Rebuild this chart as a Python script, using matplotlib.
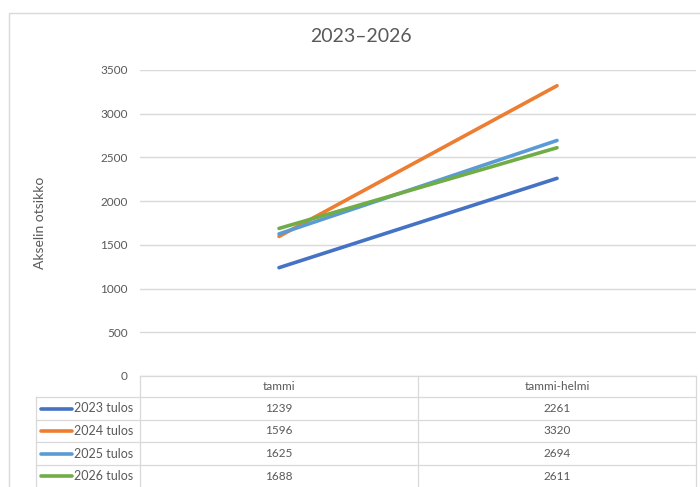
import matplotlib
matplotlib.use("Agg")
import matplotlib.pyplot as plt
from matplotlib.lines import Line2D
from matplotlib.patches import Rectangle

plt.rcParams['font.family'] = ['Lato', 'DejaVu Sans']

categories = ["tammi", "tammi-helmi"]
series_names = ["2023 tulos", "2024 tulos", "2025 tulos", "2026 tulos"]
v2023 = [1239, 2261]
v2024 = [1596, 3320]
v2025 = [1625, 2694]
v2026 = [1688, 2611]
series_values = [v2023, v2024, v2025, v2026]
colors = ["#4472C4", "#ED7D31", "#5B9BD5", "#70AD47"]
yticks = [0, 500, 1000, 1500, 2000, 2500, 3000, 3500]
title = "2023\u20132026"
ylabel = "Akselin otsikko"

W, H = 700, 487
TXT = "#595959"
GRID = "#d9d9d9"

fig = plt.figure(figsize=(W / 100, H / 100), dpi=100)

def fx(px):
    return px / W

def fy(py):
    return 1 - py / H

# outer chart border
fig.patches.append(Rectangle((fx(9), fy(600)), fx(760) - fx(9), fy(13) - fy(600),
                             transform=fig.transFigure, fill=False,
                             edgecolor=GRID, linewidth=1.0))

left, right, top, bottom = 140, 696, 70, 376
ax = fig.add_axes([fx(left), fy(bottom), fx(right) - fx(left), fy(top) - fy(bottom)])
x = list(range(len(categories)))
for name, vals, c in zip(series_names, series_values, colors):
    ax.plot(x, vals, color=c, linewidth=2.6, solid_capstyle='round', label=name, zorder=3)

ax.set_xlim(-0.5, len(categories) - 0.5)
ax.set_ylim(0, 3500)
ax.set_yticks(yticks)
ax.set_yticklabels([str(t) for t in yticks], fontsize=8.5, color=TXT)
ax.set_xticks([])
ax.tick_params(axis='y', length=0, pad=9)
ax.grid(axis='y', color=GRID, linewidth=1.0)
ax.set_axisbelow(True)
for s in ax.spines.values():
    s.set_visible(False)

fig.text(fx(361), fy(37), title, ha='center', va='center', fontsize=14, color=TXT)
fig.text(fx(40), fy(223), ylabel, ha='center', va='center', rotation=90, fontsize=10, color=TXT)

# data table
def hline(y, x0, x1):
    fig.add_artist(Line2D([fx(x0), fx(x1)], [fy(y), fy(y)], transform=fig.transFigure,
                          color=GRID, linewidth=0.9))

def vline(xp, y0, y1):
    fig.add_artist(Line2D([fx(xp), fx(xp)], [fy(y0), fy(y1)], transform=fig.transFigure,
                          color=GRID, linewidth=0.9))

mid = (left + right) / 2
hline(bottom, left, right)
for y in [397, 420, 442, 465]:
    hline(y, 36, right)
vline(left, bottom, 490)
vline(mid, bottom, 490)
vline(right, bottom, 490)
vline(36, 397, 490)

# column centers from axes data coordinates
def col_center_px(i):
    disp = ax.transData.transform((i, 0))
    return fig.transFigure.inverted().transform(disp)[0] * W

header_y = (bottom + 397) / 2
for i, cat in enumerate(categories):
    fig.text(fx(col_center_px(i)), fy(header_y), cat, ha='center', va='center',
             fontsize=8.5, color=TXT)

row_bounds = [397, 420, 442, 465, 487]
for r, (name, vals, c) in enumerate(zip(series_names, series_values, colors)):
    yc = (row_bounds[r] + row_bounds[r + 1]) / 2
    fig.add_artist(Line2D([fx(41), fx(72)], [fy(yc), fy(yc)], transform=fig.transFigure,
                          color=c, linewidth=2.6, solid_capstyle='round'))
    fig.text(fx(74), fy(yc), name, ha='left', va='center', fontsize=9, color=TXT)
    for i, v in enumerate(vals):
        fig.text(fx(col_center_px(i)), fy(yc), str(v), ha='center', va='center',
                 fontsize=8.5, color=TXT)

fig.savefig("out.png", dpi=100)
